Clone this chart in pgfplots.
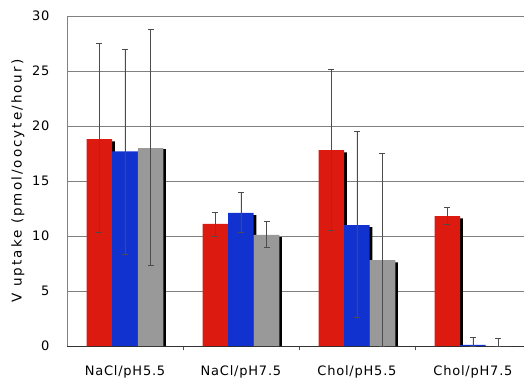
\documentclass[border=0pt]{standalone}
\usepackage{pgfplots}
\pgfplotsset{compat=1.18}
\usepackage{fontspec}
\setmainfont{DejaVu Sans}[LetterSpace=6]
\newfontfamily\ylfont{DejaVu Sans}[LetterSpace=15]
\definecolor{cred}{HTML}{DD1A10}
\definecolor{cblue}{HTML}{1232CF}
\definecolor{cgray}{HTML}{999999}
\definecolor{cgrid}{HTML}{808080}
\begin{document}
\begin{tikzpicture}
\begin{axis}[
  at={(0,0)}, anchor=south west,
  scale only axis, width=457pt, height=330pt,
  xmin=-0.5, xmax=3.44, ymin=0, ymax=30,
  axis x line=bottom, axis y line=left,
  axis line style={-, line width=0.8pt},
  y axis line style={cgrid},
  x axis line style={black!80},
  ytick={0,5,...,30},
  ymajorgrids, grid style={cgrid, line width=0.8pt},
  xtick={0,1,2,3},
  xticklabels={NaCl/pH5.5, NaCl/pH7.5, Chol/pH5.5, Chol/pH7.5},
  minor xtick={0.5,1.5,2.5},
  major x tick style={draw=none},
  minor x tick style={draw=black!70, line width=0.6pt},
  minor tick length=4pt,
  ytick style={draw=none},
  tick label style={font=\fontsize{13}{15}\selectfont},
  /pgf/number format/assume math mode=true,
  xticklabel shift=12pt,
  yticklabel shift=12pt,
  ylabel={V uptake (pmol/oocyte/hour)},
  ylabel style={font=\ylfont\fontsize{13.5}{15}\selectfont, at={(axis description cs:-0.1072,0.5)}, anchor=center},
  ybar, bar width=0.22, bar shift=0pt,
  clip=false,
]
% red shadow + red
\addplot[fill=black, draw=none] coordinates {(-0.198,18.6) (0.802,10.9) (1.802,17.6) (2.802,11.6)};
\addplot[fill=cred, draw=none,
  error bars/.cd, y dir=both, y explicit,
  error bar style={black!70, line width=0.6pt},
  error mark options={rotate=90, mark size=3pt, black!70, line width=0.6pt}]
  coordinates {
  (-0.22,18.8) += (0,8.7) -= (0,8.5)
  (0.78,11.1) += (0,1.1) -= (0,1.1)
  (1.78,17.8) += (0,7.4) -= (0,7.3)
  (2.78,11.8) += (0,0.8) -= (0,0.7)
  };
% blue shadow + blue
\addplot[fill=black, draw=none] coordinates {(0.022,17.5) (1.022,11.9) (2.022,10.8) (3.022,0.0)};
\addplot[fill=cblue, draw=none,
  error bars/.cd, y dir=both, y explicit,
  error bar style={black!70, line width=0.6pt},
  error mark options={rotate=90, mark size=3pt, black!70, line width=0.6pt}]
  coordinates {
  (0,17.7) += (0,9.3) -= (0,9.4)
  (1,12.1) += (0,1.9) -= (0,1.8)
  (2,11.0) += (0,8.5) -= (0,8.4)
  (3,0.1) += (0,0.7) -= (0,0.1)
  };
% gray shadow + gray
\addplot[fill=black, draw=none] coordinates {(0.242,17.9) (1.242,9.9) (2.242,7.6) (3.242,0.0)};
\addplot[fill=cgray, draw=none,
  error bars/.cd, y dir=both, y explicit,
  error bar style={black!70, line width=0.6pt},
  error mark options={rotate=90, mark size=3pt, black!70, line width=0.6pt}]
  coordinates {
  (0.22,18.0) += (0,10.8) -= (0,10.7)
  (1.22,10.1) += (0,1.2) -= (0,1.1)
  (2.22,7.8) += (0,9.7) -= (0,7.8)
  (3.22,0.0) += (0,0.7) -= (0,0.0)
  };
\end{axis}
\pgfresetboundingbox
\path (-67pt,-35pt) rectangle (457pt,346pt);
\end{tikzpicture}
\end{document}
